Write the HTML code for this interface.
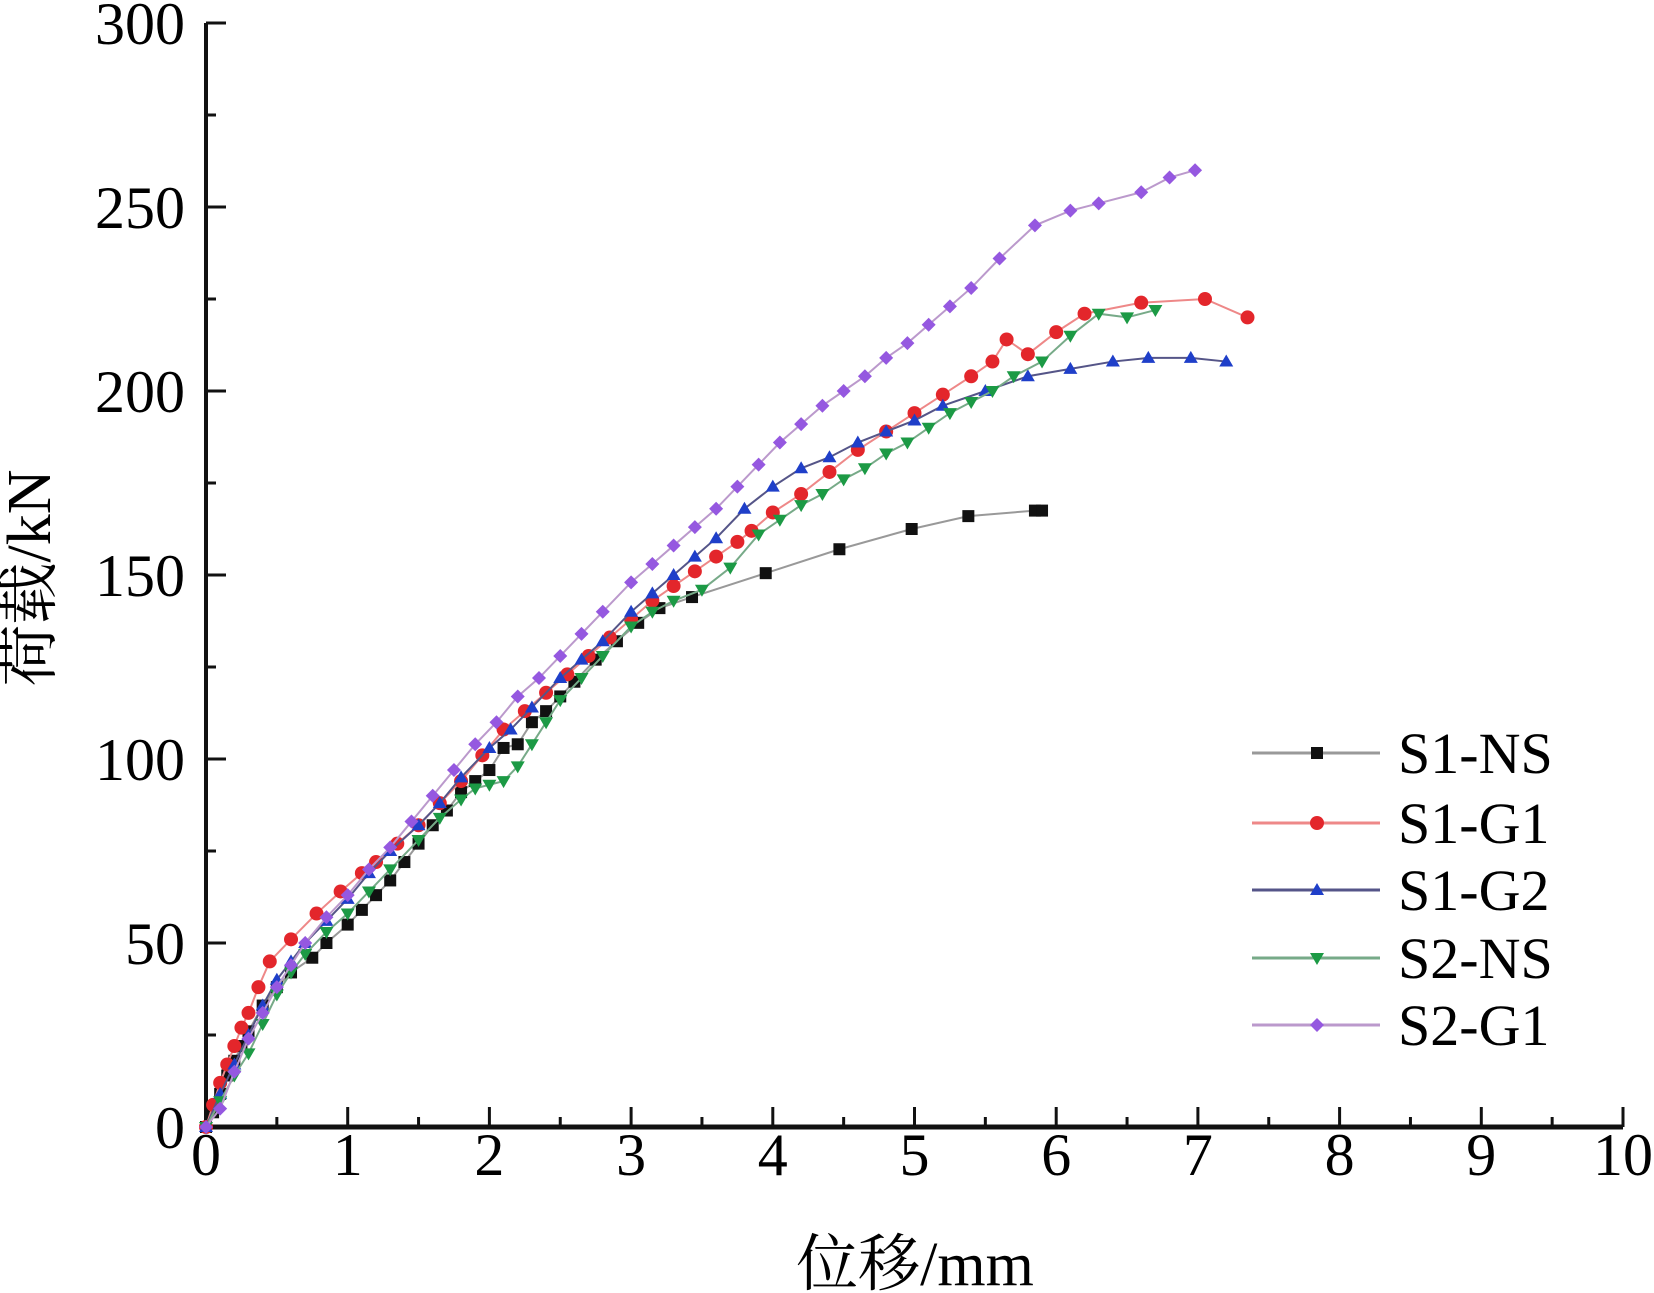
<!DOCTYPE html>
<html><head><meta charset="utf-8"><style>
html,body{margin:0;padding:0;background:#fff;}
svg{display:block;font-family:"Liberation Serif","Noto Serif CJK SC",serif;}
</style></head><body>
<svg id="chart" width="1654" height="1293" viewBox="0 0 1654 1293" xmlns="http://www.w3.org/2000/svg">
<g id="axes"></g>
<g id="series"></g>
<g id="legend"></g>
<text transform="translate(50,578) rotate(-90)" text-anchor="middle" font-size="62">荷载/kN</text>
<text x="915" y="1285" text-anchor="middle" font-size="62">位移/mm</text>
</svg>
<script>
const xTicks = [0,1,2,3,4,5,6,7,8,9,10];
const yTicks = [0,50,100,150,200,250,300];
const seriesNames = ["S1-NS","S1-G1","S1-G2","S2-NS","S2-G1"];
const s1nsX = [0,0.05,0.1,0.15,0.2,0.25,0.3,0.4,0.5,0.6,0.75,0.85,1.0,1.1,1.2,1.3,1.4,1.5,1.6,1.7,1.8,1.9,2.0,2.1,2.2,2.3,2.4,2.5,2.6,2.75,2.9,3.05,3.2,3.43,3.95,4.47,4.98,5.38,5.85,5.9];
const s1nsY = [0,4,9,14,18,22,26,33,38,42,46,50,55,59,63,67,72,77,82,86,91,94,97,103,104,110,113,117,121,127,132,137,141,144,150.5,157,162.5,166,167.5,167.5];
const s1g1X = [0,0.05,0.1,0.15,0.2,0.25,0.3,0.37,0.45,0.6,0.78,0.95,1.1,1.2,1.35,1.5,1.65,1.8,1.95,2.1,2.25,2.4,2.55,2.7,2.85,3.0,3.15,3.3,3.45,3.6,3.75,3.85,4.0,4.2,4.4,4.6,4.8,5.0,5.2,5.4,5.55,5.65,5.8,6.0,6.2,6.6,7.05,7.35];
const s1g1Y = [0,6,12,17,22,27,31,38,45,51,58,64,69,72,77,82,88,94,101,108,113,118,123,128,133,138,143,147,151,155,159,162,167,172,178,184,189,194,199,204,208,214,210,216,221,224,225,220];
const s1g2X = [0,0.1,0.2,0.3,0.4,0.5,0.6,0.7,0.85,1.0,1.15,1.3,1.5,1.65,1.8,2.0,2.15,2.3,2.5,2.65,2.8,3.0,3.15,3.3,3.45,3.6,3.8,4.0,4.2,4.4,4.6,4.8,5.0,5.2,5.5,5.8,6.1,6.4,6.65,6.95,7.2];
const s1g2Y = [0,9,17,25,33,40,45,50,56,62,69,75,82,88,95,103,108,114,122,127,132,140,145,150,155,160,168,174,179,182,186,189,192,196,200,204,206,208,209,209,208];
const s2nsX = [0,0.1,0.2,0.3,0.4,0.5,0.6,0.7,0.85,1.0,1.15,1.3,1.5,1.65,1.8,1.9,2.0,2.1,2.2,2.3,2.4,2.5,2.65,2.8,3.0,3.15,3.3,3.5,3.7,3.9,4.05,4.2,4.35,4.5,4.65,4.8,4.95,5.1,5.25,5.4,5.55,5.7,5.9,6.1,6.3,6.5,6.7];
const s2nsY = [0,7,14,20,28,36,42,47,53,58,64,70,78,84,89,92,93,94,98,104,110,116,122,128,136,140,143,146,152,161,165,169,172,176,179,183,186,190,194,197,200,204,208,215,221,220,222];
const s2g1X = [0,0.1,0.2,0.3,0.4,0.5,0.6,0.7,0.85,1.0,1.15,1.3,1.45,1.6,1.75,1.9,2.05,2.2,2.35,2.5,2.65,2.8,3.0,3.15,3.3,3.45,3.6,3.75,3.9,4.05,4.2,4.35,4.5,4.65,4.8,4.95,5.1,5.25,5.4,5.6,5.85,6.1,6.3,6.6,6.8,6.98];
const s2g1Y = [0,5,15,24,31,38,44,50,57,63,70,76,83,90,97,104,110,117,122,128,134,140,148,153,158,163,168,174,180,186,191,196,200,204,209,213,218,223,228,236,245,249,251,254,258,260];
const seriesX = [s1nsX,s1g1X,s1g2X,s2nsX,s2g1X];
const seriesY = [s1nsY,s1g1Y,s1g2Y,s2nsY,s2g1Y];

const NS="http://www.w3.org/2000/svg";
const X0=206,X1=1623,Y0=1127,Y1=23;
const xs=v=>X0+(v-0)/(10-0)*(X1-X0);
const ys=v=>Y0-(v-0)/(300-0)*(Y0-Y1);
const colors=["#111","#e3262b","#1f3fc9","#1c9a45","#9558e0"];
const lineColors=["#999","#e88","#558","#7a8","#b9c"];
const shapes=["square","circle","up","down","diamond"];
function mk(tag,attrs,parent){const e=document.createElementNS(NS,tag);for(const k in attrs)e.setAttribute(k,attrs[k]);parent.appendChild(e);return e;}
const axes=document.getElementById('axes');
let e=mk('line',{x1:X0,y1:Y1,x2:X0,y2:Y0+2,stroke:"#111","stroke-width":4},axes);


e=mk('line',{x1:X0-2,y1:Y0,x2:X1,y2:Y0,stroke:"#111","stroke-width":5},axes);


xTicks.forEach((t,i)=>{
  const x=xs(t);
  const tk=mk('line',{x1:x,y1:Y0,x2:x,y2:Y0-20,stroke:"#111","stroke-width":3},axes);
  
  
  if(i<xTicks.length-1){const m=mk('line',{x1:xs(t+0.5),y1:Y0,x2:xs(t+0.5),y2:Y0-10,stroke:"#111","stroke-width":3},axes);
  
  }
  const lb=mk('text',{x:x,y:1175,"text-anchor":"middle","font-size":"60"},axes);lb.textContent=t;
  
  
});
yTicks.forEach((t,i)=>{
  const y=ys(t);
  const tk=mk('line',{x1:X0,y1:y,x2:X0+20,y2:y,stroke:"#111","stroke-width":3},axes);
  
  
  if(i<yTicks.length-1){const m=mk('line',{x1:X0,y1:ys(t+25),x2:X0+10,y2:ys(t+25),stroke:"#111","stroke-width":3},axes);
  
  }
  const lb=mk('text',{x:185,y:y+21,"text-anchor":"end","font-size":"60"},axes);lb.textContent=t;
  
  
});
function marker(shape,x,y,c,parent){
  let m;
  if(shape==="square")m=mk('rect',{x:x-6,y:y-6,width:12,height:12,fill:c},parent);
  else if(shape==="circle")m=mk('circle',{cx:x,cy:y,r:7,fill:c},parent);
  else if(shape==="up")m=mk('polygon',{points:`${x},${y-7} ${x-7},${y+5} ${x+7},${y+5}`,fill:c},parent);
  else if(shape==="down")m=mk('polygon',{points:`${x},${y+7} ${x-7},${y-5} ${x+7},${y-5}`,fill:c},parent);
  else m=mk('polygon',{points:`${x},${y-7} ${x+7},${y} ${x},${y+7} ${x-7},${y}`,fill:c},parent);
  return m;
}
const sg=document.getElementById('series');
seriesNames.forEach((n,i)=>{
  const g=mk('g',{},sg);
  
  
  const pts=seriesX[i].map((x,j)=>xs(x)+","+ys(seriesY[i][j])).join(" ");
  const pl=mk('polyline',{points:pts,fill:"none",stroke:lineColors[i],"stroke-width":2},g);
  
  
  seriesX[i].forEach((x,j)=>{
    const m=marker(shapes[i],xs(x),ys(seriesY[i][j]),colors[i],g);
    
    
  });
});
const lg=document.getElementById('legend');
const legY=[753,823,890,958,1025];
seriesNames.forEach((n,i)=>{
  const g=mk('g',{},lg);
  
  
  mk('line',{x1:1252,y1:legY[i],x2:1380,y2:legY[i],stroke:lineColors[i],"stroke-width":3},g);
  marker(shapes[i],1317,legY[i],colors[i],g);
  const t=mk('text',{x:1398,y:legY[i]+20,"font-size":"58"},g);t.textContent=n;
});
</script>
</body></html>
